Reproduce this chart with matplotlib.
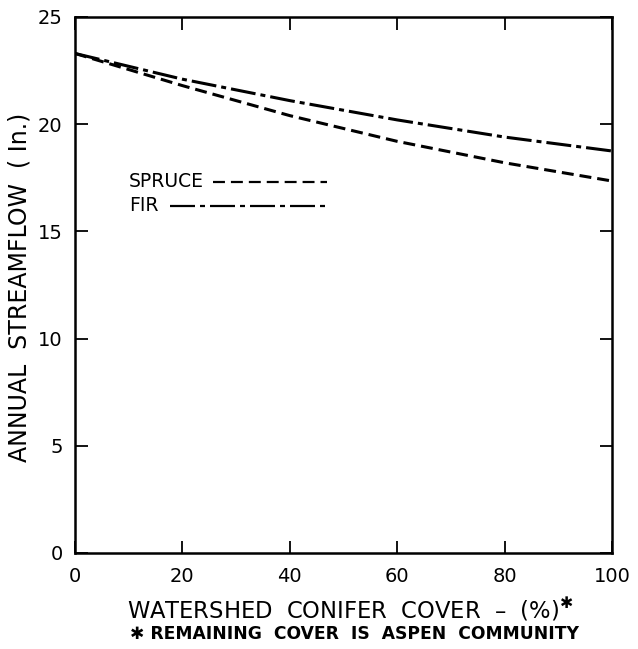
import matplotlib
matplotlib.use("Agg")
import matplotlib.pyplot as plt
from matplotlib.lines import Line2D

plt.rcParams['font.family'] = ['DejaVu Sans']
plt.rcParams['lines.scale_dashes'] = False

cover = [0, 20, 40, 60, 80, 100]
spruce = [23.3, 21.8, 20.4, 19.2, 18.2, 17.35]
fir = [23.3, 22.1, 21.1, 20.2, 19.4, 18.75]
xticks = [0, 20, 40, 60, 80, 100]
yticks = [0, 5, 10, 15, 20, 25]

fig = plt.figure(figsize=(6.38, 6.49), dpi=100)
ax = fig.add_axes([75/638, 1-553/649, (612-75)/638, (553-17)/649])

ax.plot(cover, spruce, color='black', lw=2.2, dashes=(8.6, 4.3))
ax.plot(cover, fir, color='black', lw=2.2, dashes=(18, 3.6, 3.6, 3.6))

ax.set_xlim(0, 100)
ax.set_ylim(0, 25)
ax.set_xticks(xticks)
ax.set_yticks(yticks)
ax.set_xticklabels([str(v) for v in xticks])
ax.set_yticklabels([str(v) for v in yticks])
ax.tick_params(direction='in', length=9, width=1.3, top=True, right=True,
               labelsize=14, color='black')
ax.tick_params(axis='x', pad=10)
ax.tick_params(axis='y', pad=9)
for s in ax.spines.values():
    s.set_linewidth(1.8)

fig.text(20/638, 1-287/649, 'ANNUAL  STREAMFLOW  ( In.)', fontsize=17,
         rotation=90, ha='center', va='center')

# legend-like labels
ax.text(0.101, 0.693, 'SPRUCE', transform=ax.transAxes, fontsize=13.5,
        va='center', ha='left')
ax.add_line(Line2D([0.257, 0.470], [0.693, 0.693], transform=ax.transAxes,
                   color='black', lw=1.6, dashes=(8.6, 4.3)))
ax.text(0.101, 0.648, 'FIR', transform=ax.transAxes, fontsize=13.5,
        va='center', ha='left')
ax.add_line(Line2D([0.177, 0.470], [0.648, 0.648], transform=ax.transAxes,
                   color='black', lw=1.6, dashes=(18, 3.6, 3.6, 3.6)))

fig.text(350/638, 1-609/649, 'WATERSHED  CONIFER  COVER  –  (%)$^{✱}$',
         fontsize=16.3, ha='center', va='center')
fig.text(355/638, 1-634/649, '✱ REMAINING  COVER  IS  ASPEN  COMMUNITY',
         fontsize=12.3, ha='center', va='center', fontweight='bold')

fig.savefig('out.png', dpi=100)
